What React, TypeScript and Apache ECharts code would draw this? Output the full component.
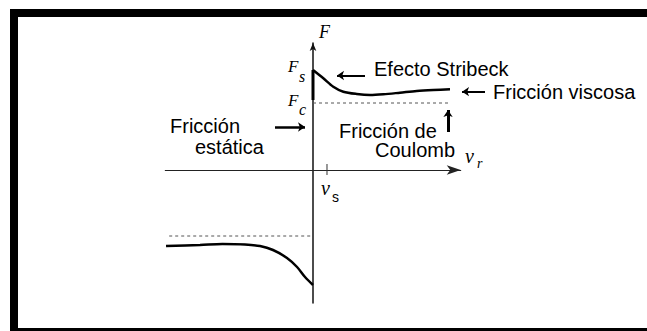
import React, { useEffect, useRef } from "react";
import * as echarts from "echarts";

// Stribeck curve, positive velocity (v, F)
const upperCurve: [number, number][] = [
  [0, 10.0], [1.05, 9.17], [2.06, 8.33], [3.08, 7.83], [4.44, 7.6], [5.79, 7.5],
  [7.14, 7.57], [8.83, 7.73], [10.53, 7.9], [12.21, 8.0], [13.91, 8.07],
];
// Stribeck curve, negative velocity
const lowerCurve: [number, number][] = [
  [-14.92, -7.6], [-11.47, -7.5], [-9.2, -7.4], [-6.9, -7.45], [-5.38, -7.6],
  [-4.06, -8.0], [-2.64, -8.8], [-1.62, -9.7], [-0.81, -10.7], [0, -11.5],
];
// Static friction segment at v = 0
const staticSegment: [number, number][] = [[0, 10.0], [0, 7.0]];
// Coulomb levels (dashed)
const coulombUpper: [number, number][] = [[0, 6.7], [13.9, 6.7]];
const coulombLower: [number, number][] = [[-14.6, -6.6], [0, -6.6]];
// v_s tick
const vsTick: [number, number][] = [[1.42, 0.6], [1.42, -0.5]];
// Annotation arrows (from -> to)
const arrowStribeck: [number, number][] = [[5.28, 9.45], [2.44, 9.45]];
const arrowViscosa: [number, number][] = [[17.46, 7.83], [15.13, 7.83]];
const arrowEstatica: [number, number][] = [[-3.86, 4.3], [-0.81, 4.3]];
const arrowCoulomb: [number, number][] = [[13.71, 3.8], [13.71, 6.0]];

const SANS = "'Liberation Sans', Arial, sans-serif";
const SERIF = "'Liberation Serif'";

export default function App() {
  const ref = useRef<HTMLDivElement>(null);
  useEffect(() => {
    const chart = echarts.init(ref.current!, undefined, { renderer: "svg" });
    const line = (data: [number, number][], width: number, extra: any = {}) => ({
      type: "line",
      data,
      symbol: "none",
      smooth: extra.smooth ?? false,
      clip: false,
      silent: true,
      lineStyle: { color: extra.color ?? "#000", width, type: extra.type ?? "solid" },
      z: extra.z ?? 3,
    });
    const arrow = (coords: [number, number][], width: number) => ({
      type: "lines",
      coordinateSystem: "cartesian2d",
      clip: false,
      silent: true,
      symbol: ["none", "arrow"],
      symbolSize: 7,
      lineStyle: { color: "#000", width, opacity: 1 },
      data: [{ coords }],
      z: 4,
    });
    const txt = (text: string, x: number, y: number, font: string, size: number, italic = false) => ({
      type: "text",
      x,
      y,
      z: 10,
      style: {
        text,
        fill: "#000",
        fontFamily: font,
        fontSize: size,
        lineHeight: size - 2,
        fontStyle: italic ? "italic" : "normal",
        verticalAlign: "top",
        align: "left",
      },
    });
    const twoLine = (a: string, b: string, x: number, y: number, indent: number, lh: number) => ({
      type: "text",
      x,
      y,
      z: 10,
      style: {
        text: `{a|${a}}\n{b|${b}}`,
        fill: "#000",
        fontFamily: SANS,
        fontSize: 20,
        verticalAlign: "top",
        align: "left",
        rich: {
          a: { fontFamily: SANS, fontSize: 20, lineHeight: lh, fill: "#000" },
          b: { fontFamily: SANS, fontSize: 20, lineHeight: lh, fill: "#000", padding: [0, 0, 0, indent] },
        },
      },
    });
    const bar = (x1: number, y1: number, x2: number, y2: number) => ({
      type: "line",
      shape: { x1, y1, x2, y2 },
      style: { stroke: "#000", lineWidth: 8 },
      z: 20,
    });
    chart.setOption({
      animation: false,
      backgroundColor: "#fff",
      grid: { left: 165.25, top: 43, width: 295.5, height: 260, containLabel: false },
      xAxis: {
        type: "value",
        min: -15,
        max: 15,
        axisLine: {
          onZero: true,
          lineStyle: { color: "#222", width: 1 },
          symbol: ["none", "arrow"],
          symbolSize: [7, 14],
        },
        axisTick: { show: false },
        axisLabel: { show: false },
        splitLine: { show: false },
      },
      yAxis: {
        type: "value",
        min: -13.3,
        max: 12.7,
        axisLine: {
          onZero: true,
          lineStyle: { color: "#111", width: 1.5 },
          symbol: ["none", "arrow"],
          symbolSize: [5, 8],
        },
        axisTick: { show: false },
        axisLabel: { show: false },
        splitLine: { show: false },
      },
      series: [
        line(upperCurve, 2.5, { smooth: 0.3 }),
        line(lowerCurve, 2.5, { smooth: 0.3 }),
        line(staticSegment, 3),
        line(coulombUpper, 1, { type: [3, 3], color: "#555" }),
        line(coulombLower, 1, { type: [3, 3], color: "#555" }),
        line(vsTick, 1, { color: "#333" }),
        arrow(arrowStribeck, 2),
        arrow(arrowViscosa, 2),
        arrow(arrowEstatica, 2.5),
        arrow(arrowCoulomb, 3),
      ],
      graphic: [
        bar(10, 13, 647, 13),
        bar(14, 9, 14, 331),
        bar(10, 332, 647, 332),
        txt("Efecto Stribeck", 374, 60, SANS, 20),
        txt("Fricción viscosa", 493, 83, SANS, 20),
        twoLine("Fricción de", "Coulomb", 339, 121.5, 36, 19),
        twoLine("Fricción", "estática", 170, 115, 25, 21),
        txt("F", 319, 24, SERIF, 18, true),
        txt("F", 288, 59, SERIF, 17, true),
        txt("s", 299, 69, SERIF, 16, true),
        txt("F", 288, 93, SERIF, 17, true),
        txt("c", 299, 102, SERIF, 16, true),
        txt("ν", 465, 147, SERIF, 20, true),
        txt("r", 477, 157, SERIF, 14, true),
        txt("ν", 321, 179, SERIF, 20, true),
        txt("s", 332, 191, SANS, 14),
      ],
    });
    return () => chart.dispose();
  }, []);
  return (
    <div
      ref={ref}
      style={{ position: "fixed", left: 0, top: 0, width: 647, height: 331 }}
    />
  );
}
